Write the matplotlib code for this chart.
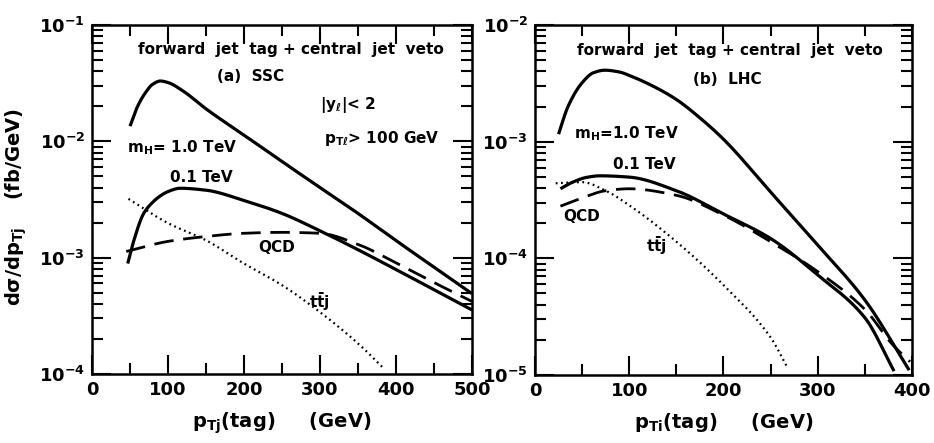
import numpy as np
import matplotlib
matplotlib.use("Agg")
import matplotlib.pyplot as plt
from matplotlib.ticker import MultipleLocator, LogLocator, NullFormatter

plt.rcParams['font.family'] = ['DejaVu Sans']
plt.rcParams['font.weight'] = 'bold'
plt.rcParams['mathtext.fontset'] = 'dejavusans'
plt.rcParams['mathtext.default'] = 'bf'

# ---------------- (a) SSC ----------------
ssc_h1_x = [50, 60, 70, 80, 90, 100, 120, 150, 200, 250, 300, 350, 400, 450, 500]
ssc_h1_y = [0.0135, 0.020, 0.026, 0.031, 0.033, 0.032, 0.027, 0.019, 0.0113, 0.0067,
            0.0040, 0.0024, 0.0014, 8.3e-4, 4.9e-4]
ssc_h01_x = [47, 55, 68, 80, 90, 100, 116, 150, 200, 250, 300, 350, 400, 450, 500]
ssc_h01_y = [8.9e-4, 1.4e-3, 2.4e-3, 3.0e-3, 3.4e-3, 3.7e-3, 3.95e-3, 3.8e-3, 3.1e-3,
             2.4e-3, 1.7e-3, 1.17e-3, 7.9e-4, 5.3e-4, 3.55e-4]
ssc_qcd_x = [45, 100, 150, 200, 250, 300, 350, 400, 450, 500]
ssc_qcd_y = [1.13e-3, 1.38e-3, 1.52e-3, 1.62e-3, 1.65e-3, 1.62e-3, 1.3e-3, 9.0e-4,
             6.1e-4, 4.2e-4]
ssc_tt_x = [48, 100, 150, 200, 250, 300, 350, 383]
ssc_tt_y = [3.2e-3, 1.98e-3, 1.41e-3, 8.9e-4, 5.8e-4, 3.4e-4, 1.83e-4, 1.13e-4]

# ---------------- (b) LHC ----------------
lhc_h1_x = [25, 35, 50, 62, 74, 90, 100, 125, 150, 175, 200, 250, 300, 350, 397]
lhc_h1_y = [1.16e-3, 2.0e-3, 3.2e-3, 3.9e-3, 4.1e-3, 3.95e-3, 3.7e-3, 3.0e-3, 2.3e-3,
            1.6e-3, 1.05e-3, 3.7e-4, 1.3e-4, 4.4e-5, 1.1e-5]
lhc_h01_x = [27, 40, 55, 69, 100, 150, 200, 250, 300, 350, 381]
lhc_h01_y = [3.95e-4, 4.5e-4, 4.95e-4, 5.1e-4, 4.97e-4, 3.8e-4, 2.4e-4, 1.48e-4,
             7.2e-5, 3.1e-5, 1.08e-5]
lhc_qcd_x = [27, 50, 75, 100, 150, 200, 250, 300, 350, 380, 398]
lhc_qcd_y = [2.8e-4, 3.3e-4, 3.8e-4, 3.95e-4, 3.47e-4, 2.35e-4, 1.39e-4, 7.7e-5,
             3.65e-5, 1.8e-5, 1.3e-5]
lhc_tt_x = [22, 50, 75, 100, 150, 200, 250, 268]
lhc_tt_y = [4.4e-4, 4.5e-4, 3.8e-4, 2.85e-4, 1.39e-4, 5.9e-5, 2.1e-5, 1.15e-5]


def smooth(xs, ys, n=300):
    xs = np.asarray(xs, float)
    ly = np.log10(np.asarray(ys, float))
    xx = np.linspace(xs[0], xs[-1], n)
    h = np.diff(xs)
    d = np.diff(ly) / h
    m = np.zeros_like(ly)
    m[0], m[-1] = d[0], d[-1]
    for i in range(1, len(xs) - 1):
        if d[i - 1] * d[i] <= 0:
            m[i] = 0
        else:
            w1 = 2 * h[i] + h[i - 1]
            w2 = h[i] + 2 * h[i - 1]
            m[i] = (w1 + w2) / (w1 / d[i - 1] + w2 / d[i])
    idx = np.clip(np.searchsorted(xs, xx) - 1, 0, len(xs) - 2)
    t = (xx - xs[idx]) / h[idx]
    h00 = 2 * t**3 - 3 * t**2 + 1
    h10 = t**3 - 2 * t**2 + t
    h01 = -2 * t**3 + 3 * t**2
    h11 = t**3 - t**2
    yy = h00 * ly[idx] + h10 * h[idx] * m[idx] + h01 * ly[idx + 1] + h11 * h[idx] * m[idx + 1]
    return xx, 10**yy


fig = plt.figure(figsize=(9.34, 4.43), dpi=100)
axL = fig.add_axes([0.0985, 0.1558, 0.4069, 0.7878])
axR = fig.add_axes([0.5728, 0.1535, 0.4036, 0.7900])

tfs = 11


def style(ax, xmax, ylo, yhi):
    ax.set_yscale('log')
    ax.set_xlim(0, xmax)
    ax.set_ylim(ylo, yhi)
    ax.xaxis.set_major_locator(MultipleLocator(100))
    ax.xaxis.set_minor_locator(MultipleLocator(50))
    ax.yaxis.set_major_locator(LogLocator(base=10, numticks=10))
    ax.yaxis.set_minor_locator(LogLocator(base=10, subs=np.arange(2, 10), numticks=20))
    ax.yaxis.set_minor_formatter(NullFormatter())
    ax.tick_params(which='both', direction='in', top=True, right=True, width=1.5)
    ax.tick_params(which='major', length=14, labelsize=13, pad=5)
    ax.tick_params(which='minor', length=8)
    for s in ax.spines.values():
        s.set_linewidth(1.8)
    for lab in ax.get_xticklabels() + ax.get_yticklabels():
        lab.set_fontweight('bold')


def draw(ax, h1, h01, qcd, tt):
    x, y = smooth(*h1)
    ax.plot(x, y, color='black', lw=2.3, solid_capstyle='butt')
    x, y = smooth(*h01)
    ax.plot(x, y, color='black', lw=2.3, solid_capstyle='butt')
    x, y = smooth(*qcd)
    ax.plot(x, y, color='black', lw=2.0, dashes=(7, 3.5))
    x, y = smooth(*tt)
    ax.plot(x, y, color='black', lw=1.6, dashes=(0.8, 1.6))


draw(axL, (ssc_h1_x, ssc_h1_y), (ssc_h01_x, ssc_h01_y), (ssc_qcd_x, ssc_qcd_y), (ssc_tt_x, ssc_tt_y))
draw(axR, (lhc_h1_x, lhc_h1_y), (lhc_h01_x, lhc_h01_y), (lhc_qcd_x, lhc_qcd_y), (lhc_tt_x, lhc_tt_y))

style(axL, 500, 1e-4, 1e-1)
style(axR, 400, 1e-5, 1e-2)

kw = dict(fontsize=tfs, fontweight='bold', color='black')
# left panel texts
axL.text(261, 0.062, 'forward  jet  tag + central  jet  veto', ha='center', va='center', **kw)
axL.text(208, 0.036, '(a)  SSC', ha='center', va='center', **kw)
axL.text(300, 0.0207, r'$|y_{\ell}|$< 2', ha='left', va='center', **kw)
axL.text(305, 0.0105, r'$\mathbf{p_{T\ell}}$> 100 GeV', ha='left', va='center', **kw)
axL.text(46, 0.0088, r'$\mathbf{m_H}$= 1.0 TeV', ha='left', va='center', **kw)
axL.text(103, 0.0049, '0.1 TeV', ha='left', va='center', **kw)
axL.text(219, 0.00122, 'QCD', ha='left', va='center', **kw)
axL.text(285, 4.2e-4, r'$\mathbf{t\bar{t}j}$', ha='left', va='center', **kw)

# right panel texts
axR.text(207, 0.0060, 'forward  jet  tag + central  jet  veto', ha='center', va='center', **kw)
axR.text(204, 0.0034, '(b)  LHC', ha='center', va='center', **kw)
axR.text(41, 0.00118, r'$\mathbf{m_H}$=1.0 TeV', ha='left', va='center', **kw)
axR.text(83, 6.4e-4, '0.1 TeV', ha='left', va='center', **kw)
axR.text(30, 2.3e-4, 'QCD', ha='left', va='center', **kw)
axR.text(118, 1.28e-4, r'$\mathbf{t\bar{t}j}$', ha='left', va='center', **kw)

# axis labels
axL.set_ylabel(r'$\mathbf{d\sigma/dp_{Tj}}$    (fb/GeV)', fontsize=14, fontweight='bold')
axL.yaxis.set_label_coords(-0.165, 0.48)
axL.set_xlabel(r'$\mathbf{p_{Tj}}$(tag)     (GeV)', fontsize=14, fontweight='bold', labelpad=8)
axR.set_xlabel(r'$\mathbf{p_{Ti}}$(tag)     (GeV)', fontsize=14, fontweight='bold', labelpad=8)

fig.savefig('out.png', dpi=100)
